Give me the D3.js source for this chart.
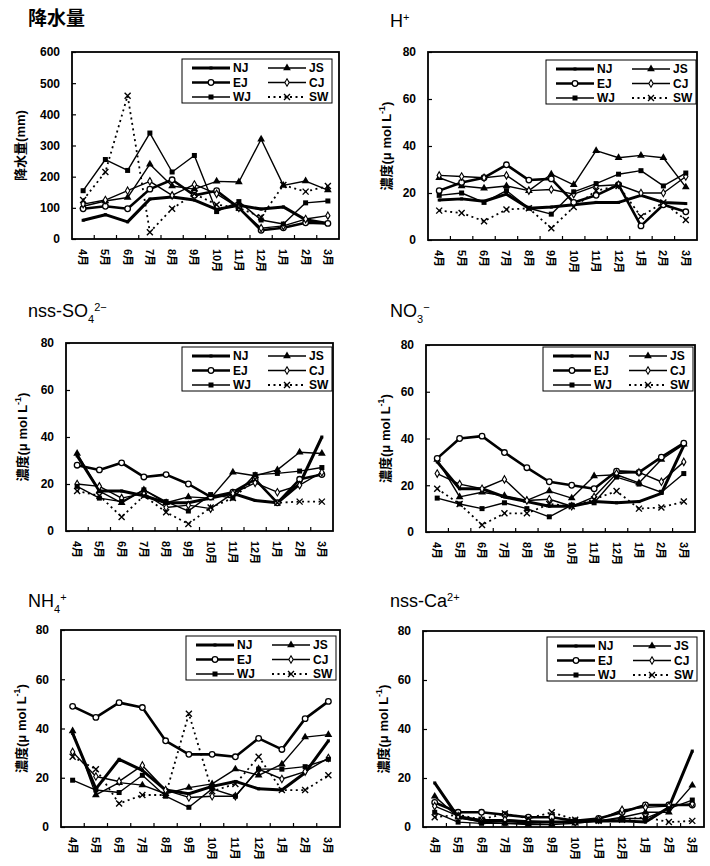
<!DOCTYPE html>
<html>
<head>
<meta charset="utf-8">
<script src="https://cdn.jsdelivr.net/npm/d3@7"></script>
<style>
  body { margin: 0; background: #fff; }
  svg { display: block; }
</style>
</head>
<body>
<svg id="fig" width="710" height="866"></svg>
<script>
// months and sites
var months = ["4月", "5月", "6月", "7月", "8月", "9月", "10月", "11月", "12月", "1月", "2月", "3月"];
var sites = ["NJ", "JS", "EJ", "CJ", "WJ", "SW"];

// rows follow the order of sites
var precip = [
  [60, 78, 55, 128, 135, 125, 95, 108, 96, 103, 62, 50],
  [105, 122, 133, 240, 170, 160, 185, 183, 320, 172, 186, 157],
  [97, 105, 97, 160, 190, 140, 155, 100, 28, 36, 52, 50],
  [112, 125, 155, 185, 140, 175, 145, 100, 35, 42, 64, 75],
  [155, 255, 220, 340, 215, 268, 88, 120, 61, 48, 116, 122],
  [125, 215, 460, 22, 97, 145, 110, 100, 70, 173, 152, 170]
];
var hIon = [
  [17, 17.5, 16.5, 19.5, 13.5, 14, 15, 16, 16, 19, 16, 15.5],
  [26.5, 23, 22, 23, 21, 28, 23.5, 38, 35, 36, 35, 22.5],
  [21, 24.5, 26.5, 32, 25.5, 26, 16, 19, 23.5, 6, 15, 12],
  [27.5, 27, 26.5, 27.5, 21, 21.5, 19.5, 23, 23.5, 20, 20, 27],
  [19, 20, 16, 21, 13.5, 11, 20.5, 24, 28, 29.5, 23, 28.5],
  [12.5, 11.5, 8, 13, 13.5, 5, 14, 21, 23, 10, 16, 8.5]
];
var so4 = [
  [32, 17, 17, 15, 12, 12, 14, 16, 13, 12, 20, 40],
  [33, 17, 12, 17.5, 12, 14.5, 14, 25, 23.5, 26, 33.5, 33],
  [28, 26, 29, 23, 24, 20, 14.5, 16.5, 22, 12, 22, 24],
  [20, 19, 14, 16, 10, 11, 9.5, 16, 20.5, 16.5, 19.5, 25],
  [19, 14, 12.5, 17.5, 12.5, 8.5, 15.5, 14, 24, 24.5, 25.5, 27],
  [17, 15, 6, 15, 8, 3, 10, 14, 22, 12, 12.5, 12.5]
];
var no3 = [
  [30, 18.5, 18.5, 15, 13, 11, 11, 13, 12.5, 13, 16.5, 37],
  [31, 15, 17, 15.5, 13.5, 17.5, 14.5, 24, 24.5, 21, 31, 37.5],
  [31.5, 40, 41, 34, 27.5, 21.5, 20, 18.5, 26, 25.5, 32, 38],
  [25, 20.5, 18.5, 22.5, 13.5, 14, 11, 15, 25, 25.5, 21.5, 30],
  [14.5, 12, 10, 12.5, 10, 6.5, 11.5, 12.5, 23.5, 20.5, 17, 25],
  [18.5, 12, 3, 8, 8, 12, 11, 14, 17.5, 10, 10.5, 13]
];
var nh4 = [
  [38, 15.5, 27.5, 23, 15, 13.5, 16.5, 18.5, 15.5, 15, 22, 35],
  [39, 13, 18, 17, 13.5, 16, 17.5, 23.5, 21, 25.5, 36.5, 37.5],
  [49, 44.5, 50.5, 48.5, 35, 29.5, 29.5, 28.5, 36, 31.5, 44, 51],
  [30.5, 20.5, 18.5, 25, 15, 12, 12.5, 12.5, 23.5, 19.5, 22.5, 28],
  [19, 15, 14, 21, 12.5, 8, 15.5, 12.5, 23.5, 23.5, 24.5, 27.5],
  [28.5, 23.5, 9.5, 13, 13, 46, 14.5, 17.5, 28.5, 15, 15, 21]
];
var ca = [
  [18, 4, 2.5, 2.5, 2, 2, 2, 2.5, 2.5, 2, 8, 31],
  [12.5, 4, 2, 1.5, 1, 1, 1.5, 2.5, 4, 6, 6, 17],
  [10, 6, 6, 5, 4, 4, 2.5, 3.5, 6, 9, 9, 9],
  [8.5, 4.5, 3, 3, 2.5, 2, 2, 3, 7, 8, 8.5, 9.5],
  [6, 2, 1.5, 1.5, 1.5, 2, 2.5, 2.5, 3.5, 3.5, 7.5, 11],
  [4, 5, 3, 5.5, 3.5, 6, 3, 2.5, 3, 4, 2, 2.5]
];

var precipTicks = [0, 100, 200, 300, 400, 500, 600];
var concTicks = [0, 20, 40, 60, 80];

var svg = d3.select("#fig");
var font = "'Liberation Sans', Arial, 'Noto Sans CJK JP', sans-serif";

// line and marker look for each site
var look = {
  NJ: { width: 3, dash: null, mark: "dot" },
  JS: { width: 1.4, dash: null, mark: "triangle" },
  EJ: { width: 2.6, dash: null, mark: "circle" },
  CJ: { width: 1.4, dash: null, mark: "diamond" },
  WJ: { width: 1.4, dash: null, mark: "square" },
  SW: { width: 1.8, dash: "2,3.5", mark: "x" }
};

// title pieces: [text, "sub" | "sup" | ""]
var concLabel = [["濃度(", ""], ["μ", ""], [" mol L", ""], ["-1", "sup"], [")", ""]];
var panels = [
  { data: precip, ticks: precipTicks, max: 600, box: [72, 52, 339, 239],
    title: [["降水量", ""]], cjkTitle: true, tx: 28, ty: 25,
    ylab: [["降水量(mm)", ""]], lx: 22, leg: [182, 59] },
  { data: hIon, ticks: concTicks, max: 80, box: [428, 52, 697, 240],
    title: [["H", ""], ["+", "sup"]], tx: 390, ty: 27,
    ylab: concLabel, lx: 388, leg: [546, 60] },
  { data: so4, ticks: concTicks, max: 80, box: [66, 343, 333, 531],
    title: [["nss-SO", ""], ["4", "sub"], ["2−", "sup"]], tx: 28, ty: 317,
    ylab: concLabel, lx: 24, leg: [182, 347] },
  { data: no3, ticks: concTicks, max: 80, box: [426, 345, 695, 532],
    title: [["NO", ""], ["3", "sub"], ["−", "sup"]], tx: 390, ty: 317,
    ylab: concLabel, lx: 387, leg: [543, 347] },
  { data: nh4, ticks: concTicks, max: 80, box: [61, 630, 340, 827],
    title: [["NH", ""], ["4", "sub"], ["+", "sup"]], tx: 28, ty: 607,
    ylab: concLabel, lx: 23, leg: [186, 636] },
  { data: ca, ticks: concTicks, max: 80, box: [423, 631, 704, 827],
    title: [["nss-Ca", ""], ["2+", "sup"]], tx: 390, ty: 607,
    ylab: concLabel, lx: 385, leg: [547, 637] }
];

function addPieces(textSel, pieces, small) {
  pieces.forEach(function (p) {
    var t = textSel.append("tspan").text(p[0]);
    if (p[1] === "sup") t.attr("baseline-shift", "super").attr("font-size", small);
    if (p[1] === "sub") t.attr("baseline-shift", "sub").attr("font-size", small);
  });
}

function drawMark(g, kind, cx, cy) {
  if (kind === "dot") {
    g.append("rect").attr("x", cx - 1.5).attr("y", cy - 1.5).attr("width", 3).attr("height", 3).attr("fill", "#000");
  } else if (kind === "triangle") {
    g.append("path").attr("transform", "translate(" + cx + "," + cy + ")")
      .attr("d", d3.symbol(d3.symbolTriangle, 26)()).attr("fill", "#000");
  } else if (kind === "circle") {
    g.append("circle").attr("cx", cx).attr("cy", cy).attr("r", 2.8)
      .attr("fill", "#fff").attr("stroke", "#000").attr("stroke-width", 1.3);
  } else if (kind === "diamond") {
    g.append("path").attr("transform", "translate(" + cx + "," + cy + ")")
      .attr("d", d3.symbol(d3.symbolDiamond, 16)()).attr("fill", "#fff")
      .attr("stroke", "#000").attr("stroke-width", 1.1);
  } else if (kind === "square") {
    g.append("rect").attr("x", cx - 2.5).attr("y", cy - 2.5).attr("width", 5).attr("height", 5).attr("fill", "#000");
  } else if (kind === "x") {
    g.append("path").attr("d", "M" + (cx - 3) + "," + (cy - 3) + "L" + (cx + 3) + "," + (cy + 3) +
      "M" + (cx + 3) + "," + (cy - 3) + "L" + (cx - 3) + "," + (cy + 3))
      .attr("stroke", "#000").attr("stroke-width", 1.4);
  }
}

panels.forEach(function (p) {
  var left = p.box[0], top = p.box[1], right = p.box[2], bottom = p.box[3];
  var g = svg.append("g");

  var x = d3.scaleBand().domain(months).range([left, right]).padding(0);
  var y = d3.scaleLinear().domain([0, p.max]).range([bottom, top]);

  // panel title
  var title = g.append("text").attr("x", p.tx).attr("y", p.ty)
    .attr("font-family", p.cjkTitle ? "'Noto Sans CJK JP', sans-serif" : font)
    .attr("font-size", p.cjkTitle ? 19 : 18)
    .attr("font-weight", p.cjkTitle ? "bold" : "normal");
  addPieces(title, p.title, 11);

  // y axis label
  var yl = g.append("text")
    .attr("transform", "translate(" + p.lx + "," + (top + bottom) / 2 + ") rotate(-90)")
    .attr("text-anchor", "middle").attr("dominant-baseline", "middle")
    .attr("font-family", font).attr("font-size", 13).attr("font-weight", "bold");
  addPieces(yl, p.ylab, 9);

  // y axis, ticks pointing inward
  var ya = g.append("g").attr("transform", "translate(" + left + ",0)")
    .call(d3.axisLeft(y).tickValues(p.ticks).tickSize(-4).tickPadding(12));
  ya.select(".domain").remove();
  ya.selectAll("text").attr("font-family", font).attr("font-size", 12).attr("font-weight", "bold");
  ya.selectAll("line").attr("stroke-width", 1.2);

  // category boundary ticks on the bottom edge
  g.selectAll(".bt").data(months.slice(1)).enter().append("line")
    .attr("x1", function (d) { return x(d); }).attr("x2", function (d) { return x(d); })
    .attr("y1", bottom).attr("y2", bottom - 4)
    .attr("stroke", "#000").attr("stroke-width", 1.2);

  // month labels, turned
  g.selectAll(".ml").data(months).enter().append("text")
    .attr("transform", function (d) {
      return "translate(" + (x(d) + x.bandwidth() / 2) + "," + (bottom + 10) + ") rotate(90)";
    })
    .attr("dominant-baseline", "central")
    .attr("font-family", font).attr("font-size", 11).attr("font-weight", "bold")
    .text(function (d) { return d; });

  // plot frame
  g.append("rect").attr("x", left).attr("y", top)
    .attr("width", right - left).attr("height", bottom - top)
    .attr("fill", "none").attr("stroke", "#000").attr("stroke-width", 1.8);

  // series
  var line = d3.line()
    .x(function (d, i) { return x(months[i]) + x.bandwidth() / 2; })
    .y(function (d) { return y(d); });

  sites.forEach(function (s, k) {
    var vals = p.data[k];
    var st = look[s];
    g.append("path").datum(vals).attr("d", line)
      .attr("fill", "none").attr("stroke", "#000")
      .attr("stroke-width", st.width)
      .attr("stroke-dasharray", st.dash)
      .attr("stroke-linejoin", "round");
    vals.forEach(function (v, i) {
      drawMark(g, st.mark, x(months[i]) + x.bandwidth() / 2, y(v));
    });
  });

  // legend
  var lx = p.leg[0], ly = p.leg[1];
  var lg = g.append("g");
  lg.append("rect").attr("x", lx).attr("y", ly).attr("width", 150).attr("height", 44)
    .attr("fill", "#fff").attr("stroke", "#000").attr("stroke-width", 1);
  sites.forEach(function (s, k) {
    var col = k % 2, row = Math.floor(k / 2);
    var x0 = lx + (col === 0 ? 10 : 86), x1 = x0 + 38;
    var yy = ly + 9 + row * 14.5;
    var st = look[s];
    lg.append("line").attr("x1", x0).attr("x2", x1).attr("y1", yy).attr("y2", yy)
      .attr("stroke", "#000").attr("stroke-width", st.width).attr("stroke-dasharray", st.dash);
    drawMark(lg, st.mark, (x0 + x1) / 2, yy);
    lg.append("text").attr("x", x1 + 3).attr("y", yy).attr("dy", "0.36em")
      .attr("font-family", font).attr("font-size", 12).attr("font-weight", "bold")
      .text(s);
  });
});
</script>
</body>
</html>
